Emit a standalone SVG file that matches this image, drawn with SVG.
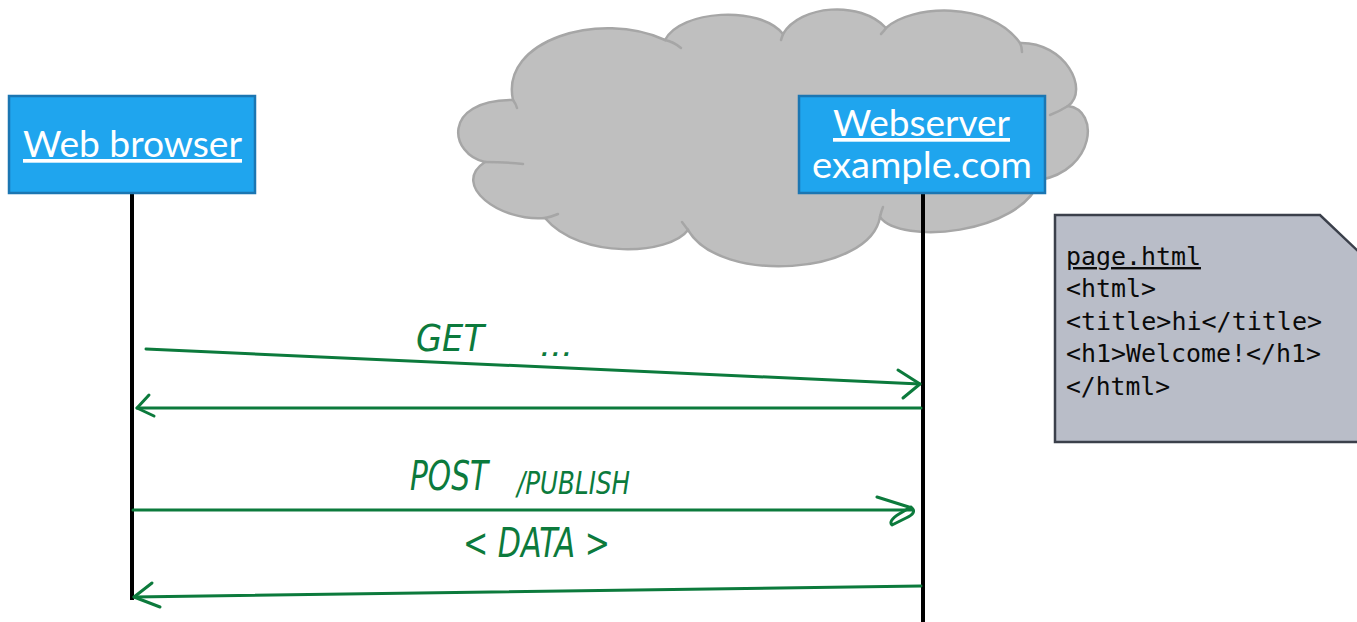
<svg xmlns="http://www.w3.org/2000/svg" width="1357" height="622" viewBox="0 0 1357 622">
  <style>
    .actor { fill: #1fa5ee; stroke: #1b76b2; stroke-width: 2.5; }
    .actor-text { font-family: Lato, "Open Sans", "Liberation Sans", sans-serif; fill: #ffffff; font-size: 37px; }
    .lifeline { stroke: #000000; stroke-width: 4; fill: none; }
    .msg { stroke: #0c7a3c; stroke-width: 3; fill: none; stroke-linecap: round; stroke-linejoin: round; }
    .hand { font-family: "DejaVu Sans Condensed", "DejaVu Sans", sans-serif; font-style: oblique; fill: #0c7a3c; }
    .cloud { fill: #bfbfbf; stroke: #a6a6a6; stroke-width: 2.5; }
    .cloud-seam { fill: none; stroke: #a6a6a6; stroke-width: 2.5; stroke-linecap: round; }
    .note { fill: #b9bdc8; stroke: #3b404b; stroke-width: 2.5; }
    .code { font-family: "DejaVu Sans Mono", "Liberation Mono", monospace; font-size: 24px; fill: #0a0a0a; }
  </style>

  <rect width="1357" height="622" fill="#ffffff"/>

  <!-- internet cloud behind the server -->
  <g id="cloud">
    <path class="cloud" d="M513,100
      C500,40 600,10 665,40
      C680,10 760,5 783,34
      C800,5 860,0 886,28
      C910,5 990,0 1020,43
      C1065,42 1090,90 1068,106
      C1100,110 1095,170 1040,180
      C1020,235 900,245 880,217
      C870,275 720,285 688,230
      C670,255 580,260 545,218
      C500,222 450,185 485,162
      C450,155 440,100 513,100 Z"/>
    <path class="cloud-seam" d="M513,100 Q516,104 517,108"/>
    <path class="cloud-seam" d="M665,40 Q674,42 681,48"/>
    <path class="cloud-seam" d="M783,34 Q782,37 781,40"/>
    <path class="cloud-seam" d="M886,28 Q884,31 881,34"/>
    <path class="cloud-seam" d="M1020,43 Q1022,47 1022,52"/>
    <path class="cloud-seam" d="M1068,106 Q1060,111 1050,115"/>
    <path class="cloud-seam" d="M880,217 Q881,212 883,207"/>
    <path class="cloud-seam" d="M688,230 Q685,226 682,222"/>
    <path class="cloud-seam" d="M545,218 Q551,217 558,214"/>
    <path class="cloud-seam" d="M485,162 Q505,162 523,164"/>
  </g>

  <!-- lifelines -->
  <g id="lifelines">
    <line class="lifeline" x1="132" y1="193" x2="132" y2="600"/>
    <line class="lifeline" x1="923" y1="193" x2="923" y2="622"/>
  </g>

  <g id="browser">
    <rect class="actor" x="9" y="96" width="246" height="97"/>
    <text class="actor-text" x="23" y="157" textLength="219" lengthAdjust="spacingAndGlyphs" text-decoration="underline">Web browser</text>
  </g>

  <g id="server">
    <rect class="actor" x="799" y="96" width="246" height="97"/>
    <text class="actor-text" x="833" y="136" textLength="177" lengthAdjust="spacingAndGlyphs" text-decoration="underline">Webserver</text>
    <text class="actor-text" x="812" y="178" textLength="220" lengthAdjust="spacingAndGlyphs">example.com</text>
  </g>

  <g id="page-note">
    <polygon class="note" points="1055,215 1320,215 1359,252 1359,442 1055,442"/>
    <text class="code" x="1066" y="265" textLength="135" lengthAdjust="spacingAndGlyphs" text-decoration="underline">page.html</text>
    <text class="code" x="1066" y="297" textLength="90" lengthAdjust="spacingAndGlyphs">&lt;html&gt;</text>
    <text class="code" x="1066" y="330" textLength="256" lengthAdjust="spacingAndGlyphs">&lt;title&gt;hi&lt;/title&gt;</text>
    <text class="code" x="1066" y="362" textLength="255" lengthAdjust="spacingAndGlyphs">&lt;h1&gt;Welcome!&lt;/h1&gt;</text>
    <text class="code" x="1066" y="395" textLength="104" lengthAdjust="spacingAndGlyphs">&lt;/html&gt;</text>
  </g>

  <!-- request / response messages -->
  <g id="connectors">
    <path class="msg" d="M146,349 L920,384"/>
    <path class="msg" d="M898,370 L920,384 L903,398"/>

    <path class="msg" d="M921,408 L137,408"/>
    <path class="msg" d="M149,395 L137,408 L154,416"/>

    <path class="msg" d="M133,510 L912,510"/>
    <path class="msg" d="M877,497 L912,508 Q917,513 906,518 L892,525 Q888,521 899,514 L911,507"/>

    <path class="msg" d="M921,586 L134,597"/>
    <path class="msg" d="M152,583 L134,597 L160,607"/>
  </g>

  <g id="labels">
    <text class="hand" x="416" y="351" font-size="38" textLength="68" lengthAdjust="spacingAndGlyphs">GET</text>
    <text class="hand" x="540" y="356" font-size="30" textLength="33" lengthAdjust="spacingAndGlyphs">...</text>
    <text class="hand" x="410" y="490" font-size="40" textLength="78" lengthAdjust="spacingAndGlyphs">POST</text>
    <text class="hand" x="517" y="494" font-size="32" textLength="113" lengthAdjust="spacingAndGlyphs">/PUBLISH</text>
    <text class="hand" x="463" y="557" font-size="40" textLength="147" lengthAdjust="spacingAndGlyphs">&lt; DATA &gt;</text>
  </g>
</svg>
